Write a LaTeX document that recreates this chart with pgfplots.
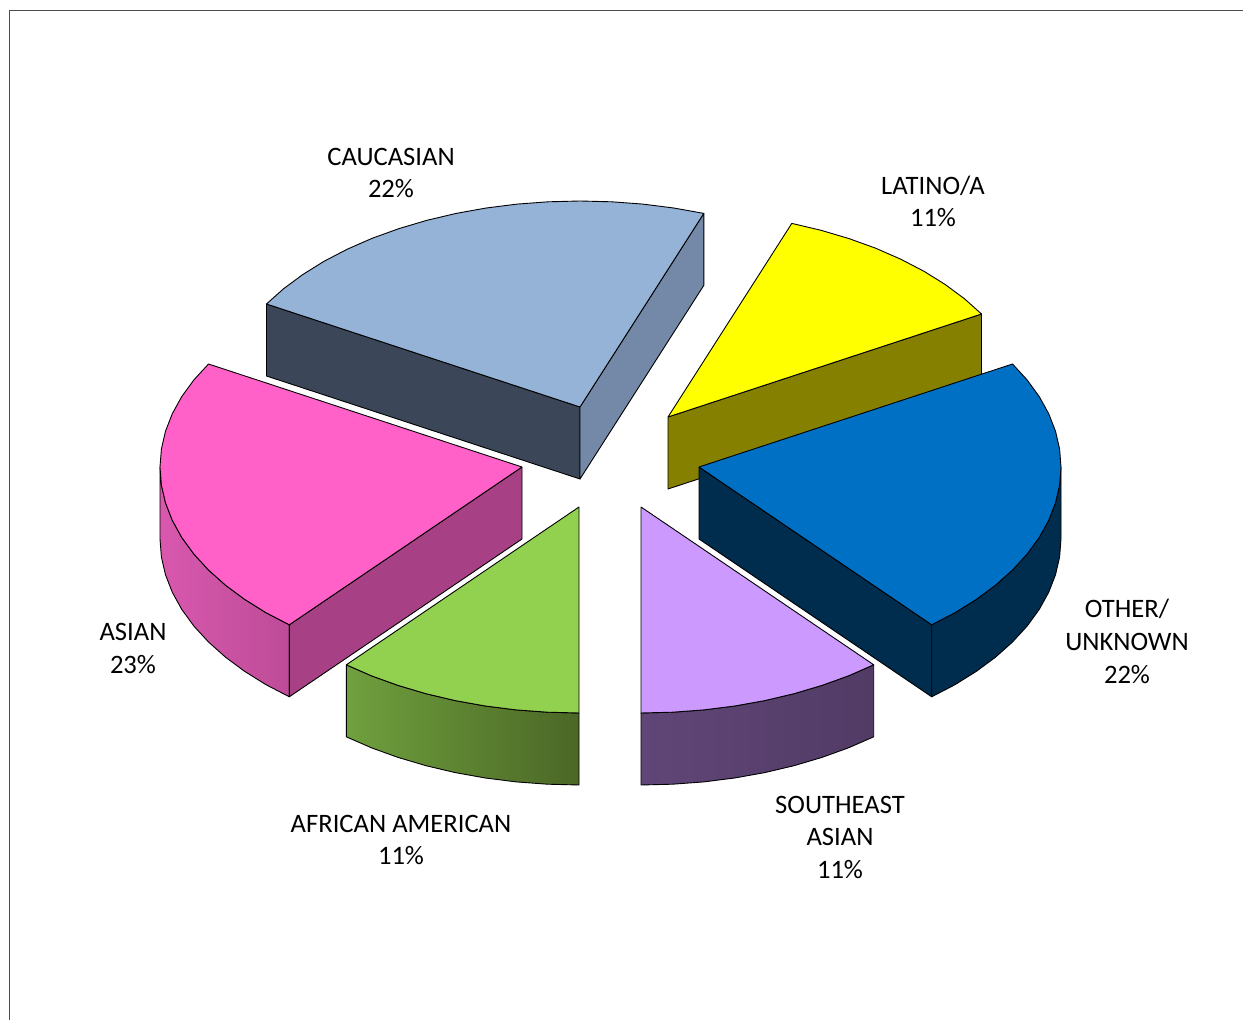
\documentclass[border=0pt]{standalone}
\usepackage{fontspec}
\setmainfont{Carlito}
\usepackage{pgfplots}
\pgfplotsset{compat=1.18}
% colours of the slices: top, and side faces
\definecolor{cauTop}{HTML}{95B3D7}
\definecolor{cauLeft}{HTML}{3B4758}
\definecolor{cauRight}{HTML}{7389A7}
\definecolor{latTop}{HTML}{FFFF00}
\definecolor{latSide}{HTML}{868000}
\definecolor{othTop}{HTML}{0070C4}
\definecolor{othSide}{HTML}{002C4E}
\definecolor{asiTop}{HTML}{FF61C8}
\definecolor{asiSide}{HTML}{A84085}
\definecolor{asiL}{HTML}{D858AE}
\definecolor{asiR}{HTML}{BE4C98}
\definecolor{afrTop}{HTML}{92D050}
\definecolor{afrL}{HTML}{70A03E}
\definecolor{afrR}{HTML}{4B6726}
\definecolor{seaTop}{HTML}{CC99FF}
\definecolor{seaL}{HTML}{604678}
\definecolor{seaR}{HTML}{523B65}
\newcommand{\lab}[3]{\node[align=center,inner sep=0pt,font=\fontsize{13.3}{13.3}\selectfont] at (axis cs:#1,#2) {#3};}
\begin{document}
\begin{tikzpicture}
\begin{axis}[
    scale only axis,
    width=621.5pt,
    height=510pt,
    xmin=0, xmax=1243,
    ymin=0, ymax=1020,
    y dir=reverse,
    hide axis,
    every axis plot/.append style={line width=0.45pt,line join=round,draw=black},
]
% keeps the page as large as the whole axis
\addplot[draw=none] coordinates {(0,0) (1243,1020)};
% frame
\addplot[draw=black!70] coordinates {(9,1020) (9,10) (1243,10)};

% CAUCASIAN
\addplot[fill=cauLeft] coordinates {(266.5,304) (580,407) (580,479) (266.5,376) (266.5,304)};
\addplot[fill=cauRight] coordinates {(580,407) (703.8,213.4) (703.8,285.4) (580,479) (580,407)};
\addplot[fill=cauTop] coordinates {(580,407) (266.5,304) (283.5,288.8) (302.7,274.6) (324,261.3)
    (347.3,249.2) (372.4,238.2) (399,228.6) (427,220.3) (456.2,213.4) (486.3,208) (517.2,204.1)
    (548.4,201.8) (580,201) (611.6,201.8) (642.8,204.1) (673.7,208) (703.8,213.4) (580,407)};

% LATINO/A
\addplot[fill=latSide] coordinates {(668,417) (981.5,314) (981.5,386) (668,489) (668,417)};
\addplot[fill=latTop] coordinates {(668,417) (791.8,223.4) (821,230.3) (849,238.6) (875.6,248.2)
    (900.7,259.2) (924,271.3) (945.3,284.6) (964.5,298.8) (981.5,314) (668,417)};

% OTHER/UNKNOWN
\addplot[fill=othSide] coordinates {(699,467) (931.7,624.8) (931.7,696.8) (699,539) (699,467)};
\addplot[fill=othSide] coordinates {(1061,467) (1059.6,485) (1055.5,502.8) (1048.7,520.3) (1039.2,537.5)
    (1027.1,554.1) (1012.5,570) (995.5,585.2) (976.3,599.4) (955,612.7) (931.7,624.8)
    (931.7,696.8) (955,684.7) (976.3,671.4) (995.5,657.2) (1012.5,642) (1027.1,626.1)
    (1039.2,609.5) (1048.7,592.3) (1055.5,574.8) (1059.6,557) (1061,539) (1061,467)};
\addplot[fill=othTop] coordinates {(699,467) (1012.5,364) (1027.1,379.9) (1039.2,396.5) (1048.7,413.7)
    (1055.5,431.2) (1059.6,449) (1061,467) (1059.6,485) (1055.5,502.8) (1048.7,520.3) (1039.2,537.5)
    (1027.1,554.1) (1012.5,570) (995.5,585.2) (976.3,599.4) (955,612.7) (931.7,624.8) (699,467)};

% ASIAN
\addplot[left color=asiL,right color=asiR] coordinates {(160,467) (161.4,485) (165.5,502.8) (172.3,520.3)
    (181.8,537.5) (193.9,554.1) (208.5,570) (225.5,585.2) (244.7,599.4) (266,612.7) (289.3,624.8)
    (289.3,696.8) (266,684.7) (244.7,671.4) (225.5,657.2) (208.5,642) (193.9,626.1) (181.8,609.5)
    (172.3,592.3) (165.5,574.8) (161.4,557) (160,539) (160,467)};
\addplot[fill=asiSide] coordinates {(522,467) (289.3,624.8) (289.3,696.8) (522,539) (522,467)};
\addplot[fill=asiTop] coordinates {(522,467) (289.3,624.8) (266,612.7) (244.7,599.4) (225.5,585.2)
    (208.5,570) (193.9,554.1) (181.8,537.5) (172.3,520.3) (165.5,502.8) (161.4,485) (160,467)
    (161.4,449) (165.5,431.2) (172.3,413.7) (181.8,396.5) (193.9,379.9) (208.5,364) (522,467)};

% AFRICAN AMERICAN
\addplot[left color=afrL,right color=afrR] coordinates {(346.3,664.8) (371.4,675.8) (398,685.4) (426,693.7)
    (455.2,700.6) (485.3,706) (516.2,709.9) (547.4,712.2) (579,713)
    (579,785) (547.4,784.2) (516.2,781.9) (485.3,778) (455.2,772.6) (426,765.7) (398,757.4)
    (371.4,747.8) (346.3,736.8) (346.3,664.8)};
\addplot[fill=afrTop] coordinates {(579,507) (346.3,664.8) (371.4,675.8) (398,685.4) (426,693.7)
    (455.2,700.6) (485.3,706) (516.2,709.9) (547.4,712.2) (579,713) (579,507)};

% SOUTHEAST ASIAN
\addplot[left color=seaL,right color=seaR] coordinates {(641,713) (672.6,712.2) (703.8,709.9) (734.7,706)
    (764.8,700.6) (794,693.7) (822,685.4) (848.6,675.8) (873.7,664.8)
    (873.7,736.8) (848.6,747.8) (822,757.4) (794,765.7) (764.8,772.6) (734.7,778) (703.8,781.9)
    (672.6,784.2) (641,785) (641,713)};
\addplot[fill=seaTop] coordinates {(641,507) (873.7,664.8) (848.6,675.8) (822,685.4) (794,693.7)
    (764.8,700.6) (734.7,706) (703.8,709.9) (672.6,712.2) (641,713) (641,507)};

% labels
\lab{391}{157}{CAUCASIAN}
\lab{391}{189}{22\%}
\lab{933}{186}{LATINO/A}
\lab{933}{218}{11\%}
\lab{1127}{609}{OTHER/}
\lab{1127}{642}{UNKNOWN}
\lab{1127}{675}{22\%}
\lab{840}{805}{SOUTHEAST}
\lab{840}{837}{ASIAN}
\lab{840}{870}{11\%}
\lab{401}{824}{AFRICAN AMERICAN}
\lab{401}{856}{11\%}
\lab{133}{632}{ASIAN}
\lab{133}{665}{23\%}
\end{axis}
\end{tikzpicture}
\end{document}
